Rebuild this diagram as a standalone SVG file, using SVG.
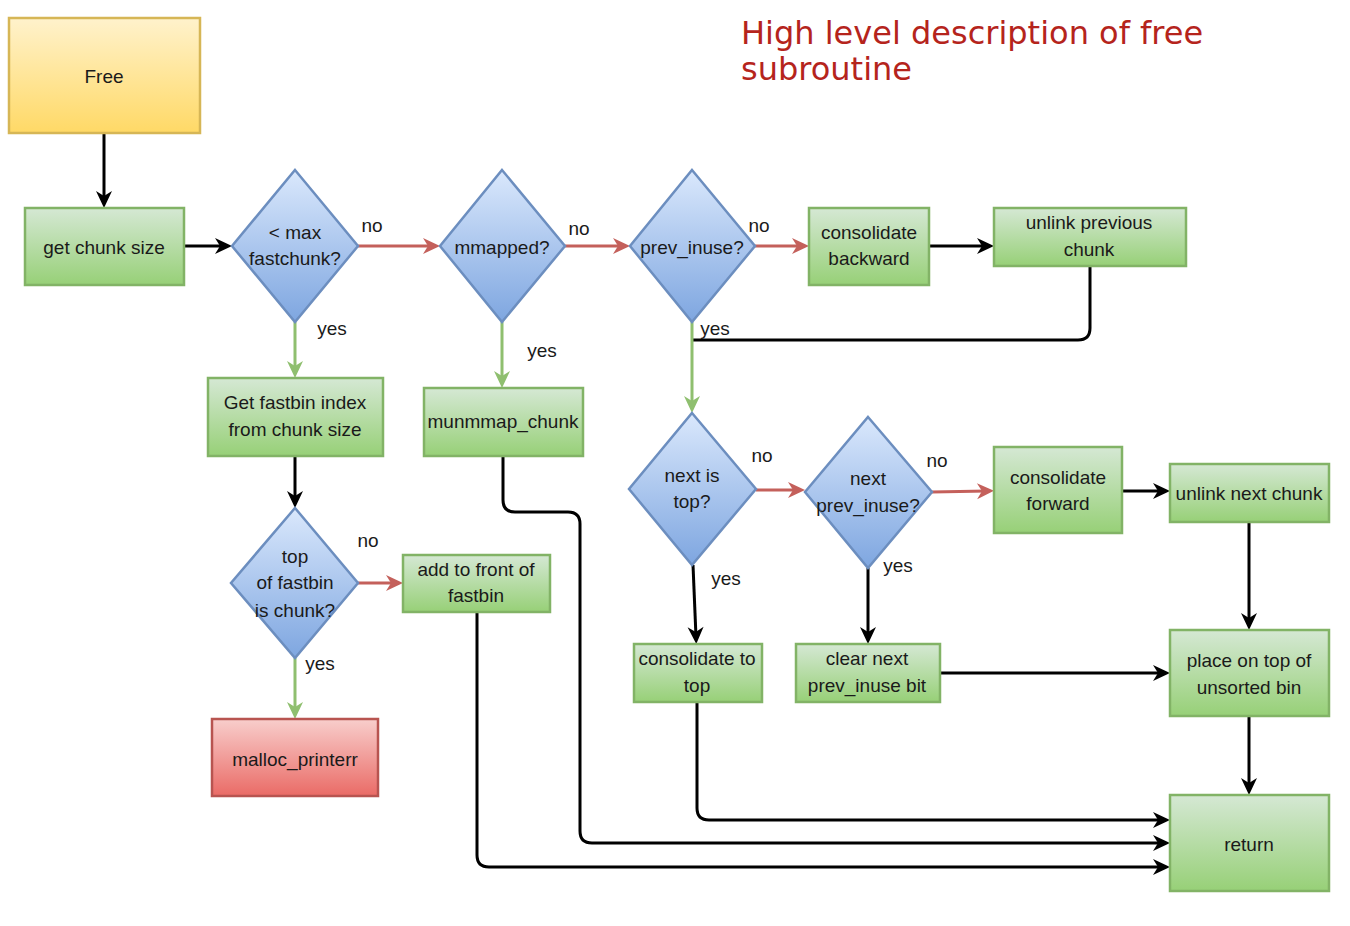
<svg xmlns="http://www.w3.org/2000/svg" width="1350" height="926" viewBox="0 0 1350 926">
<defs>
<linearGradient id="gY" x1="0" y1="0" x2="0" y2="1"><stop offset="0" stop-color="#fff2cc"/><stop offset="1" stop-color="#ffd966"/></linearGradient>
<linearGradient id="gG" x1="0" y1="0" x2="0" y2="1"><stop offset="0" stop-color="#d5e8d4"/><stop offset="1" stop-color="#97d077"/></linearGradient>
<linearGradient id="gB" x1="0" y1="0" x2="0" y2="1"><stop offset="0" stop-color="#dae8fc"/><stop offset="1" stop-color="#7ea6e0"/></linearGradient>
<linearGradient id="gR" x1="0" y1="0" x2="0" y2="1"><stop offset="0" stop-color="#f8cecc"/><stop offset="1" stop-color="#ea6b66"/></linearGradient>
<marker id="aK" markerUnits="userSpaceOnUse" markerWidth="20" markerHeight="20" refX="10" refY="8" orient="auto" overflow="visible"><path d="M0,0 L17,8 L0,16 L5,8 z" fill="#000"/></marker>
<marker id="aR" markerUnits="userSpaceOnUse" markerWidth="20" markerHeight="20" refX="10" refY="8" orient="auto" overflow="visible"><path d="M0,0 L17,8 L0,16 L5,8 z" fill="#c4605b"/></marker>
<marker id="aG" markerUnits="userSpaceOnUse" markerWidth="20" markerHeight="20" refX="10" refY="8" orient="auto" overflow="visible"><path d="M0,0 L17,8 L0,16 L5,8 z" fill="#8fbf6f"/></marker>
</defs>
<style>
.t{font-family:"Liberation Sans",Arial,sans-serif;font-size:19px;fill:#1a1a1a;text-anchor:middle}
.l{font-family:"Liberation Sans",Arial,sans-serif;font-size:19px;fill:#1a1a1a;text-anchor:middle}
.y{fill:url(#gY);stroke:#d6b656;stroke-width:2.5}
.g{fill:url(#gG);stroke:#82b366;stroke-width:2.5}
.b{fill:url(#gB);stroke:#6c8ebf;stroke-width:2.5}
.r{fill:url(#gR);stroke:#b85450;stroke-width:2.5}
.ck{fill:none;stroke:#000;stroke-width:3}
.cr{fill:none;stroke:#c4605b;stroke-width:3}
.cg{fill:none;stroke:#8fbf6f;stroke-width:3}
.title{font-family:"DejaVu Sans",sans-serif;font-size:32px;fill:#b5241c}
</style>
<rect width="1350" height="926" fill="#fff"/>
<text class="title" x="741" y="44">High level description of free</text>
<text class="title" x="741" y="80">subroutine</text>

<g id="connectors">
<path class="ck" d="M104,133 V201" marker-end="url(#aK)"/>
<path class="ck" d="M184,246 H225" marker-end="url(#aK)"/>
<path class="cr" d="M358,246 H433" marker-end="url(#aR)"/>
<path class="cr" d="M565,246 H623" marker-end="url(#aR)"/>
<path class="cr" d="M755,246 H802" marker-end="url(#aR)"/>
<path class="ck" d="M929,246 H987" marker-end="url(#aK)"/>
<path class="ck" d="M1090,266 V328 Q1090,340 1078,340 H692"/>
<path class="cg" d="M692,322 V406" marker-end="url(#aG)"/>
<path class="cg" d="M295,322 V371" marker-end="url(#aG)"/>
<path class="cg" d="M502,322 V381" marker-end="url(#aG)"/>
<path class="ck" d="M295,456 V501" marker-end="url(#aK)"/>
<path class="cr" d="M358,583 H396" marker-end="url(#aR)"/>
<path class="cg" d="M295,658 V712" marker-end="url(#aG)"/>
<path class="cr" d="M756,490 H798" marker-end="url(#aR)"/>
<path class="cr" d="M932,492 L987,491" marker-end="url(#aR)"/>
<path class="ck" d="M1122,491 H1163" marker-end="url(#aK)"/>
<path class="ck" d="M1249,522 V623" marker-end="url(#aK)"/>
<path class="ck" d="M693,565 L696,637" marker-end="url(#aK)"/>
<path class="ck" d="M868,568 V637" marker-end="url(#aK)"/>
<path class="ck" d="M940,673 H1163" marker-end="url(#aK)"/>
<path class="ck" d="M1249,716 V788" marker-end="url(#aK)"/>
<path class="ck" d="M697,702 V808 Q697,820 709,820 H1163" marker-end="url(#aK)"/>
<path class="ck" d="M503,456 V500 Q503,512 515,512 H568 Q580,512 580,524 V831 Q580,843 592,843 H1163" marker-end="url(#aK)"/>
<path class="ck" d="M477,612 V855 Q477,867 489,867 H1163" marker-end="url(#aK)"/>
<text class="l" x="372" y="232">no</text>
<text class="l" x="579" y="235">no</text>
<text class="l" x="759" y="232">no</text>
<text class="l" x="332" y="335">yes</text>
<text class="l" x="542" y="357">yes</text>
<text class="l" x="715" y="335">yes</text>
<text class="l" x="762" y="462">no</text>
<text class="l" x="937" y="467">no</text>
<text class="l" x="726" y="585">yes</text>
<text class="l" x="898" y="572">yes</text>
<text class="l" x="368" y="547">no</text>
<text class="l" x="320" y="670">yes</text>
</g>

<g id="free"><rect class="y" x="9" y="18" width="191" height="115"/><text class="t" x="104" y="83">Free</text></g>
<g id="get-chunk-size"><rect class="g" x="25" y="208" width="159" height="77"/><text class="t" x="104" y="254">get chunk size</text></g>
<g id="max-fastchunk"><polygon class="b" points="295,170 358,246 295,322 232,246"/><text class="t" x="295" y="239">&lt; max</text><text class="t" x="295" y="265">fastchunk?</text></g>
<g id="mmapped"><polygon class="b" points="502,170 565,246 502,322 440,246"/><text class="t" x="502" y="254">mmapped?</text></g>
<g id="prev-inuse"><polygon class="b" points="692,170 755,246 692,322 630,246"/><text class="t" x="692" y="254">prev_inuse?</text></g>
<g id="consolidate-backward"><rect class="g" x="809" y="208" width="120" height="77"/><text class="t" x="869" y="239">consolidate</text><text class="t" x="869" y="265">backward</text></g>
<g id="unlink-previous"><rect class="g" x="994" y="208" width="192" height="58"/><text class="t" x="1089" y="229">unlink previous</text><text class="t" x="1089" y="256">chunk</text></g>
<g id="get-fastbin-index"><rect class="g" x="208" y="378" width="175" height="78"/><text class="t" x="295" y="409">Get fastbin index</text><text class="t" x="295" y="436">from chunk size</text></g>
<g id="munmmap-chunk"><rect class="g" x="424" y="388" width="159" height="68"/><text class="t" x="503" y="428">munmmap_chunk</text></g>
<g id="next-is-top"><polygon class="b" points="692,413 756,489 692,565 629,489"/><text class="t" x="692" y="482">next is</text><text class="t" x="692" y="508">top?</text></g>
<g id="next-prev-inuse"><polygon class="b" points="868,417 932,492 868,568 805,492"/><text class="t" x="868" y="485">next</text><text class="t" x="868" y="512">prev_inuse?</text></g>
<g id="consolidate-forward"><rect class="g" x="994" y="447" width="128" height="86"/><text class="t" x="1058" y="484">consolidate</text><text class="t" x="1058" y="510">forward</text></g>
<g id="unlink-next-chunk"><rect class="g" x="1170" y="464" width="159" height="58"/><text class="t" x="1249" y="500">unlink next chunk</text></g>
<g id="top-of-fastbin"><polygon class="b" points="295,508 358,583 295,658 231,583"/><text class="t" x="295" y="563">top</text><text class="t" x="295" y="589">of fastbin</text><text class="t" x="295" y="617">is chunk?</text></g>
<g id="add-to-front"><rect class="g" x="403" y="555" width="147" height="57"/><text class="t" x="476" y="576">add to front of</text><text class="t" x="476" y="602">fastbin</text></g>
<g id="malloc-printerr"><rect class="r" x="212" y="719" width="166" height="77"/><text class="t" x="295" y="766">malloc_printerr</text></g>
<g id="consolidate-to-top"><rect class="g" x="634" y="644" width="128" height="58"/><text class="t" x="697" y="665">consolidate to</text><text class="t" x="697" y="692">top</text></g>
<g id="clear-next-prev-inuse"><rect class="g" x="796" y="644" width="144" height="58"/><text class="t" x="867" y="665">clear next</text><text class="t" x="867" y="692">prev_inuse bit</text></g>
<g id="place-on-top"><rect class="g" x="1170" y="630" width="159" height="86"/><text class="t" x="1249" y="667">place on top of</text><text class="t" x="1249" y="694">unsorted bin</text></g>
<g id="return"><rect class="g" x="1170" y="795" width="159" height="96"/><text class="t" x="1249" y="851">return</text></g>
</svg>
